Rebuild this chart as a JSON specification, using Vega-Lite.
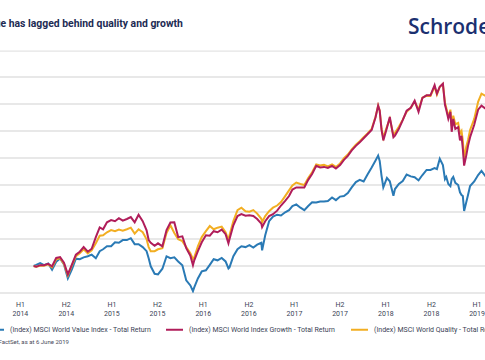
{
  "$schema": "https://vega.github.io/schema/vega-lite/v6.json",
  "width": 485,
  "height": 216,
  "autosize": {"type": "none"},
  "padding": {"top": 77, "left": 0, "right": 0, "bottom": 67},
  "background": "white",
  "config": {"view": {"stroke": null}, "font": "Roboto"},
  "datasets": {
    "series": [
      {"d":"2014-06-06","s":"Value","v":100},{"d":"2014-06-16","s":"Value","v":100.4},{"d":"2014-07-01","s":"Value","v":101.1},{"d":"2014-07-16","s":"Value","v":100.3},{"d":"2014-08-01","s":"Value","v":100.9},{"d":"2014-08-16","s":"Value","v":98.6},{"d":"2014-09-01","s":"Value","v":101.6},{"d":"2014-09-16","s":"Value","v":102.8},{"d":"2014-10-01","s":"Value","v":100.6},{"d":"2014-10-16","s":"Value","v":95.4},{"d":"2014-11-01","s":"Value","v":98.8},{"d":"2014-11-16","s":"Value","v":102.7},{"d":"2014-12-01","s":"Value","v":102.5},{"d":"2014-12-16","s":"Value","v":103.2},
      {"d":"2015-01-01","s":"Value","v":103.6},{"d":"2015-01-16","s":"Value","v":104.2},{"d":"2015-02-01","s":"Value","v":102.9},{"d":"2015-02-16","s":"Value","v":105.5},{"d":"2015-03-01","s":"Value","v":106.2},{"d":"2015-03-16","s":"Value","v":107.3},{"d":"2015-04-01","s":"Value","v":107.3},{"d":"2015-04-16","s":"Value","v":108.8},{"d":"2015-05-01","s":"Value","v":108.6},{"d":"2015-05-16","s":"Value","v":109.6},{"d":"2015-06-01","s":"Value","v":109.6},{"d":"2015-06-16","s":"Value","v":110.3},{"d":"2015-07-01","s":"Value","v":108.1},{"d":"2015-07-16","s":"Value","v":108.1},{"d":"2015-08-01","s":"Value","v":107.0},{"d":"2015-08-16","s":"Value","v":105.5},{"d":"2015-08-24","s":"Value","v":102.9},{"d":"2015-09-01","s":"Value","v":99.9},{"d":"2015-09-16","s":"Value","v":97.1},{"d":"2015-09-29","s":"Value","v":96.9},{"d":"2015-10-16","s":"Value","v":99.0},{"d":"2015-11-01","s":"Value","v":103.6},{"d":"2015-11-16","s":"Value","v":102.9},{"d":"2015-12-01","s":"Value","v":103.2},{"d":"2015-12-16","s":"Value","v":101.7},
      {"d":"2016-01-01","s":"Value","v":100.3},{"d":"2016-01-16","s":"Value","v":94.7},{"d":"2016-02-01","s":"Value","v":92.8},{"d":"2016-02-11","s":"Value","v":90.7},{"d":"2016-02-16","s":"Value","v":92.1},{"d":"2016-03-01","s":"Value","v":95.4},{"d":"2016-03-16","s":"Value","v":98.0},{"d":"2016-04-01","s":"Value","v":98.4},{"d":"2016-04-16","s":"Value","v":100.4},{"d":"2016-05-01","s":"Value","v":102.5},{"d":"2016-05-16","s":"Value","v":102.1},{"d":"2016-06-01","s":"Value","v":103.0},{"d":"2016-06-16","s":"Value","v":101.7},{"d":"2016-06-27","s":"Value","v":99.1},{"d":"2016-07-01","s":"Value","v":99.5},{"d":"2016-07-16","s":"Value","v":103.6},{"d":"2016-08-01","s":"Value","v":106.2},{"d":"2016-08-16","s":"Value","v":107.3},{"d":"2016-09-01","s":"Value","v":107.0},{"d":"2016-09-16","s":"Value","v":107.7},{"d":"2016-10-01","s":"Value","v":106.8},{"d":"2016-10-16","s":"Value","v":107.9},{"d":"2016-11-01","s":"Value","v":108.6},{"d":"2016-11-04","s":"Value","v":105.8},{"d":"2016-11-16","s":"Value","v":111.4},{"d":"2016-12-01","s":"Value","v":116.6},{"d":"2016-12-16","s":"Value","v":118.3},
      {"d":"2017-01-01","s":"Value","v":119.0},{"d":"2017-01-16","s":"Value","v":118.7},{"d":"2017-02-01","s":"Value","v":119.9},{"d":"2017-02-16","s":"Value","v":120.7},{"d":"2017-03-01","s":"Value","v":122.2},{"d":"2017-03-16","s":"Value","v":122.8},{"d":"2017-04-01","s":"Value","v":121.6},{"d":"2017-04-16","s":"Value","v":120.7},{"d":"2017-05-01","s":"Value","v":122.2},{"d":"2017-05-16","s":"Value","v":123.6},{"d":"2017-06-01","s":"Value","v":123.5},{"d":"2017-06-16","s":"Value","v":123.9},{"d":"2017-07-01","s":"Value","v":123.9},{"d":"2017-07-16","s":"Value","v":124.1},{"d":"2017-08-01","s":"Value","v":125.4},{"d":"2017-08-16","s":"Value","v":124.4},{"d":"2017-09-01","s":"Value","v":125.7},{"d":"2017-09-16","s":"Value","v":125.9},{"d":"2017-10-01","s":"Value","v":127.0},{"d":"2017-10-16","s":"Value","v":129.1},{"d":"2017-11-01","s":"Value","v":131.1},{"d":"2017-11-16","s":"Value","v":131.9},{"d":"2017-12-01","s":"Value","v":131.3},{"d":"2017-12-16","s":"Value","v":133.9},
      {"d":"2018-01-01","s":"Value","v":136.5},{"d":"2018-01-16","s":"Value","v":139.1},{"d":"2018-01-26","s":"Value","v":140.9},{"d":"2018-02-01","s":"Value","v":138.9},{"d":"2018-02-08","s":"Value","v":133.5},{"d":"2018-02-15","s":"Value","v":129.1},{"d":"2018-03-01","s":"Value","v":132.6},{"d":"2018-03-12","s":"Value","v":131.4},{"d":"2018-03-26","s":"Value","v":126.0},{"d":"2018-04-01","s":"Value","v":128.5},{"d":"2018-04-16","s":"Value","v":130.4},{"d":"2018-05-01","s":"Value","v":131.5},{"d":"2018-05-16","s":"Value","v":133.9},{"d":"2018-06-01","s":"Value","v":133.2},{"d":"2018-06-16","s":"Value","v":132.9},{"d":"2018-07-01","s":"Value","v":131.7},{"d":"2018-07-16","s":"Value","v":133.7},{"d":"2018-08-01","s":"Value","v":135.6},{"d":"2018-08-16","s":"Value","v":135.6},{"d":"2018-09-01","s":"Value","v":136.3},{"d":"2018-09-10","s":"Value","v":135.9},{"d":"2018-09-21","s":"Value","v":139.7},{"d":"2018-10-03","s":"Value","v":137.4},{"d":"2018-10-11","s":"Value","v":132.2},{"d":"2018-10-16","s":"Value","v":133.0},{"d":"2018-10-24","s":"Value","v":130.4},{"d":"2018-11-01","s":"Value","v":129.6},{"d":"2018-11-06","s":"Value","v":132.2},{"d":"2018-11-12","s":"Value","v":133.0},{"d":"2018-11-20","s":"Value","v":130.8},{"d":"2018-12-01","s":"Value","v":130.0},{"d":"2018-12-08","s":"Value","v":127.3},{"d":"2018-12-14","s":"Value","v":126.3},{"d":"2018-12-19","s":"Value","v":125.9},{"d":"2018-12-24","s":"Value","v":120.4},
      {"d":"2019-01-01","s":"Value","v":123.5},{"d":"2019-01-08","s":"Value","v":126.3},{"d":"2019-01-16","s":"Value","v":129.6},{"d":"2019-02-01","s":"Value","v":131.3},{"d":"2019-02-16","s":"Value","v":133.7},{"d":"2019-03-01","s":"Value","v":135.2},{"d":"2019-03-16","s":"Value","v":133.3},{"d":"2019-04-01","s":"Value","v":134.5},

      {"d":"2014-06-06","s":"Quality","v":100},{"d":"2014-06-16","s":"Quality","v":99.7},{"d":"2014-07-01","s":"Quality","v":100.1},{"d":"2014-07-16","s":"Quality","v":100.1},{"d":"2014-08-01","s":"Quality","v":100.6},{"d":"2014-08-16","s":"Quality","v":99.5},{"d":"2014-09-01","s":"Quality","v":102.5},{"d":"2014-09-16","s":"Quality","v":102.9},{"d":"2014-10-01","s":"Quality","v":100.8},{"d":"2014-10-16","s":"Quality","v":96.5},{"d":"2014-11-01","s":"Quality","v":100.3},{"d":"2014-11-16","s":"Quality","v":103.6},{"d":"2014-12-01","s":"Quality","v":104.7},{"d":"2014-12-16","s":"Quality","v":106.2},
      {"d":"2015-01-01","s":"Quality","v":104.7},{"d":"2015-01-16","s":"Quality","v":105.8},{"d":"2015-02-01","s":"Quality","v":108.4},{"d":"2015-02-16","s":"Quality","v":111.2},{"d":"2015-03-01","s":"Quality","v":111.4},{"d":"2015-03-16","s":"Quality","v":112.5},{"d":"2015-04-01","s":"Quality","v":113.3},{"d":"2015-04-16","s":"Quality","v":112.9},{"d":"2015-05-01","s":"Quality","v":113.5},{"d":"2015-05-16","s":"Quality","v":113.1},{"d":"2015-06-01","s":"Quality","v":113.6},{"d":"2015-06-16","s":"Quality","v":114.2},{"d":"2015-07-01","s":"Quality","v":112.0},{"d":"2015-07-16","s":"Quality","v":113.6},{"d":"2015-08-01","s":"Quality","v":112.5},{"d":"2015-08-16","s":"Quality","v":109.9},{"d":"2015-08-24","s":"Quality","v":107.0},{"d":"2015-09-01","s":"Quality","v":105.5},{"d":"2015-09-16","s":"Quality","v":105.5},{"d":"2015-09-29","s":"Quality","v":106.2},{"d":"2015-10-16","s":"Quality","v":106.6},{"d":"2015-11-01","s":"Quality","v":112.2},{"d":"2015-11-16","s":"Quality","v":115.1},{"d":"2015-12-01","s":"Quality","v":112.2},{"d":"2015-12-16","s":"Quality","v":109.9},
      {"d":"2016-01-01","s":"Quality","v":109.2},{"d":"2016-01-16","s":"Quality","v":107.0},{"d":"2016-02-01","s":"Quality","v":104.7},{"d":"2016-02-11","s":"Quality","v":102.5},{"d":"2016-02-16","s":"Quality","v":103.2},{"d":"2016-03-01","s":"Quality","v":107.3},{"d":"2016-03-16","s":"Quality","v":110.7},{"d":"2016-04-01","s":"Quality","v":112.9},{"d":"2016-04-16","s":"Quality","v":114.8},{"d":"2016-05-01","s":"Quality","v":113.6},{"d":"2016-05-16","s":"Quality","v":114.2},{"d":"2016-06-01","s":"Quality","v":114.6},{"d":"2016-06-16","s":"Quality","v":112.5},{"d":"2016-06-27","s":"Quality","v":109.6},{"d":"2016-07-01","s":"Quality","v":111.4},{"d":"2016-07-16","s":"Quality","v":116.6},{"d":"2016-08-01","s":"Quality","v":120.7},{"d":"2016-08-16","s":"Quality","v":121.6},{"d":"2016-09-01","s":"Quality","v":120.3},{"d":"2016-09-16","s":"Quality","v":120.1},{"d":"2016-10-01","s":"Quality","v":120.7},{"d":"2016-10-16","s":"Quality","v":119.4},{"d":"2016-11-01","s":"Quality","v":117.5},{"d":"2016-11-04","s":"Quality","v":116.2},{"d":"2016-11-16","s":"Quality","v":118.5},{"d":"2016-12-01","s":"Quality","v":120.3},{"d":"2016-12-16","s":"Quality","v":121.6},
      {"d":"2017-01-01","s":"Quality","v":122.4},{"d":"2017-01-16","s":"Quality","v":123.7},{"d":"2017-02-01","s":"Quality","v":125.9},{"d":"2017-02-16","s":"Quality","v":128.0},{"d":"2017-03-01","s":"Quality","v":129.8},{"d":"2017-03-16","s":"Quality","v":130.9},{"d":"2017-04-01","s":"Quality","v":130.4},{"d":"2017-04-16","s":"Quality","v":130.0},{"d":"2017-05-01","s":"Quality","v":132.6},{"d":"2017-05-16","s":"Quality","v":134.7},{"d":"2017-06-01","s":"Quality","v":137.6},{"d":"2017-06-16","s":"Quality","v":137.2},{"d":"2017-07-01","s":"Quality","v":137.5},{"d":"2017-07-16","s":"Quality","v":136.9},{"d":"2017-08-01","s":"Quality","v":137.6},{"d":"2017-08-16","s":"Quality","v":136.7},{"d":"2017-09-01","s":"Quality","v":138.0},{"d":"2017-09-16","s":"Quality","v":139.9},{"d":"2017-10-01","s":"Quality","v":141.3},{"d":"2017-10-16","s":"Quality","v":143.2},{"d":"2017-11-01","s":"Quality","v":144.9},{"d":"2017-11-16","s":"Quality","v":146.2},{"d":"2017-12-01","s":"Quality","v":147.7},{"d":"2017-12-16","s":"Quality","v":149.1},
      {"d":"2018-01-01","s":"Quality","v":150.8},{"d":"2018-01-16","s":"Quality","v":155.3},{"d":"2018-01-26","s":"Quality","v":159.4},{"d":"2018-02-01","s":"Quality","v":157.5},{"d":"2018-02-08","s":"Quality","v":151.0},{"d":"2018-02-15","s":"Quality","v":147.5},{"d":"2018-03-01","s":"Quality","v":151.6},{"d":"2018-03-12","s":"Quality","v":154.5},{"d":"2018-03-26","s":"Quality","v":148.5},{"d":"2018-04-01","s":"Quality","v":149.3},{"d":"2018-04-16","s":"Quality","v":151.6},{"d":"2018-05-01","s":"Quality","v":154.2},{"d":"2018-05-16","s":"Quality","v":157.1},{"d":"2018-06-01","s":"Quality","v":158.6},{"d":"2018-06-16","s":"Quality","v":160.9},{"d":"2018-07-01","s":"Quality","v":157.9},{"d":"2018-07-16","s":"Quality","v":162.3},{"d":"2018-08-01","s":"Quality","v":163.1},{"d":"2018-08-16","s":"Quality","v":163.0},{"d":"2018-09-01","s":"Quality","v":166.4},{"d":"2018-09-10","s":"Quality","v":163.5},{"d":"2018-09-21","s":"Quality","v":166.4},{"d":"2018-10-03","s":"Quality","v":167.4},{"d":"2018-10-11","s":"Quality","v":160.5},{"d":"2018-10-16","s":"Quality","v":158.6},{"d":"2018-10-24","s":"Quality","v":155.3},{"d":"2018-11-01","s":"Quality","v":157.9},{"d":"2018-11-06","s":"Quality","v":151.9},{"d":"2018-11-12","s":"Quality","v":155.7},{"d":"2018-11-20","s":"Quality","v":152.5},{"d":"2018-12-01","s":"Quality","v":153.0},{"d":"2018-12-08","s":"Quality","v":149.0},{"d":"2018-12-14","s":"Quality","v":150.0},{"d":"2018-12-19","s":"Quality","v":146.5},{"d":"2018-12-24","s":"Quality","v":139.7},
      {"d":"2019-01-01","s":"Quality","v":144.1},{"d":"2019-01-08","s":"Quality","v":146.7},{"d":"2019-01-16","s":"Quality","v":150.4},{"d":"2019-02-01","s":"Quality","v":154.5},{"d":"2019-02-16","s":"Quality","v":160.8},{"d":"2019-03-01","s":"Quality","v":163.8},{"d":"2019-03-16","s":"Quality","v":163.0},{"d":"2019-04-01","s":"Quality","v":163.8},

      {"d":"2014-06-06","s":"Growth","v":100},{"d":"2014-06-16","s":"Growth","v":99.7},{"d":"2014-07-01","s":"Growth","v":100.3},{"d":"2014-07-16","s":"Growth","v":100.3},{"d":"2014-08-01","s":"Growth","v":100.8},{"d":"2014-08-16","s":"Growth","v":99.9},{"d":"2014-09-01","s":"Growth","v":103.0},{"d":"2014-09-16","s":"Growth","v":103.3},{"d":"2014-10-01","s":"Growth","v":101.2},{"d":"2014-10-16","s":"Growth","v":96.9},{"d":"2014-11-01","s":"Growth","v":100.6},{"d":"2014-11-16","s":"Growth","v":104.2},{"d":"2014-12-01","s":"Growth","v":105.3},{"d":"2014-12-16","s":"Growth","v":107.0},
      {"d":"2015-01-01","s":"Growth","v":105.3},{"d":"2015-01-16","s":"Growth","v":106.4},{"d":"2015-02-01","s":"Growth","v":110.7},{"d":"2015-02-16","s":"Growth","v":114.3},{"d":"2015-03-01","s":"Growth","v":113.6},{"d":"2015-03-16","s":"Growth","v":116.2},{"d":"2015-04-01","s":"Growth","v":117.0},{"d":"2015-04-16","s":"Growth","v":116.6},{"d":"2015-05-01","s":"Growth","v":117.7},{"d":"2015-05-16","s":"Growth","v":116.8},{"d":"2015-06-01","s":"Growth","v":117.4},{"d":"2015-06-16","s":"Growth","v":118.1},{"d":"2015-07-01","s":"Growth","v":116.2},{"d":"2015-07-16","s":"Growth","v":119.0},{"d":"2015-08-01","s":"Growth","v":116.6},{"d":"2015-08-16","s":"Growth","v":113.2},{"d":"2015-08-24","s":"Growth","v":109.6},{"d":"2015-09-01","s":"Growth","v":108.6},{"d":"2015-09-16","s":"Growth","v":107.5},{"d":"2015-09-29","s":"Growth","v":108.4},{"d":"2015-10-16","s":"Growth","v":107.3},{"d":"2015-11-01","s":"Growth","v":113.3},{"d":"2015-11-16","s":"Growth","v":116.1},{"d":"2015-12-01","s":"Growth","v":116.2},{"d":"2015-12-16","s":"Growth","v":110.7},
      {"d":"2016-01-01","s":"Growth","v":111.0},{"d":"2016-01-16","s":"Growth","v":106.6},{"d":"2016-02-01","s":"Growth","v":103.8},{"d":"2016-02-11","s":"Growth","v":100.3},{"d":"2016-02-16","s":"Growth","v":102.1},{"d":"2016-03-01","s":"Growth","v":105.5},{"d":"2016-03-16","s":"Growth","v":108.8},{"d":"2016-04-01","s":"Growth","v":111.4},{"d":"2016-04-16","s":"Growth","v":111.2},{"d":"2016-05-01","s":"Growth","v":112.9},{"d":"2016-05-16","s":"Growth","v":112.5},{"d":"2016-06-01","s":"Growth","v":113.5},{"d":"2016-06-16","s":"Growth","v":111.8},{"d":"2016-06-27","s":"Growth","v":108.4},{"d":"2016-07-01","s":"Growth","v":109.9},{"d":"2016-07-16","s":"Growth","v":115.1},{"d":"2016-08-01","s":"Growth","v":118.5},{"d":"2016-08-16","s":"Growth","v":119.2},{"d":"2016-09-01","s":"Growth","v":118.6},{"d":"2016-09-16","s":"Growth","v":118.8},{"d":"2016-10-01","s":"Growth","v":118.5},{"d":"2016-10-16","s":"Growth","v":117.4},{"d":"2016-11-01","s":"Growth","v":115.7},{"d":"2016-11-04","s":"Growth","v":114.4},{"d":"2016-11-16","s":"Growth","v":116.6},{"d":"2016-12-01","s":"Growth","v":118.5},{"d":"2016-12-16","s":"Growth","v":119.2},
      {"d":"2017-01-01","s":"Growth","v":120.5},{"d":"2017-01-16","s":"Growth","v":122.4},{"d":"2017-02-01","s":"Growth","v":124.1},{"d":"2017-02-16","s":"Growth","v":125.9},{"d":"2017-03-01","s":"Growth","v":128.3},{"d":"2017-03-16","s":"Growth","v":129.1},{"d":"2017-04-01","s":"Growth","v":129.1},{"d":"2017-04-16","s":"Growth","v":129.1},{"d":"2017-05-01","s":"Growth","v":131.9},{"d":"2017-05-16","s":"Growth","v":134.1},{"d":"2017-06-01","s":"Growth","v":137.1},{"d":"2017-06-16","s":"Growth","v":136.5},{"d":"2017-07-01","s":"Growth","v":136.7},{"d":"2017-07-16","s":"Growth","v":136.3},{"d":"2017-08-01","s":"Growth","v":137.1},{"d":"2017-08-16","s":"Growth","v":136.1},{"d":"2017-09-01","s":"Growth","v":137.4},{"d":"2017-09-16","s":"Growth","v":139.3},{"d":"2017-10-01","s":"Growth","v":140.8},{"d":"2017-10-16","s":"Growth","v":142.8},{"d":"2017-11-01","s":"Growth","v":144.5},{"d":"2017-11-16","s":"Growth","v":145.8},{"d":"2017-12-01","s":"Growth","v":147.3},{"d":"2017-12-16","s":"Growth","v":148.8},
      {"d":"2018-01-01","s":"Growth","v":150.4},{"d":"2018-01-16","s":"Growth","v":155.1},{"d":"2018-01-26","s":"Growth","v":159.4},{"d":"2018-02-01","s":"Growth","v":157.5},{"d":"2018-02-08","s":"Growth","v":150.5},{"d":"2018-02-15","s":"Growth","v":146.5},{"d":"2018-03-01","s":"Growth","v":151.2},{"d":"2018-03-12","s":"Growth","v":155.2},{"d":"2018-03-26","s":"Growth","v":147.7},{"d":"2018-04-01","s":"Growth","v":148.3},{"d":"2018-04-16","s":"Growth","v":150.8},{"d":"2018-05-01","s":"Growth","v":154.0},{"d":"2018-05-16","s":"Growth","v":157.5},{"d":"2018-06-01","s":"Growth","v":158.6},{"d":"2018-06-16","s":"Growth","v":161.2},{"d":"2018-07-01","s":"Growth","v":157.1},{"d":"2018-07-16","s":"Growth","v":162.3},{"d":"2018-08-01","s":"Growth","v":163.2},{"d":"2018-08-16","s":"Growth","v":163.2},{"d":"2018-09-01","s":"Growth","v":167.0},{"d":"2018-09-10","s":"Growth","v":163.8},{"d":"2018-09-21","s":"Growth","v":166.4},{"d":"2018-10-03","s":"Growth","v":167.5},{"d":"2018-10-11","s":"Growth","v":159.7},{"d":"2018-10-16","s":"Growth","v":157.9},{"d":"2018-10-24","s":"Growth","v":154.5},{"d":"2018-11-01","s":"Growth","v":157.1},{"d":"2018-11-06","s":"Growth","v":149.7},{"d":"2018-11-12","s":"Growth","v":154.5},{"d":"2018-11-20","s":"Growth","v":150.8},{"d":"2018-12-01","s":"Growth","v":151.4},{"d":"2018-12-08","s":"Growth","v":146.5},{"d":"2018-12-14","s":"Growth","v":148.2},{"d":"2018-12-19","s":"Growth","v":143.4},{"d":"2018-12-24","s":"Growth","v":137.2},
      {"d":"2019-01-01","s":"Growth","v":140.8},{"d":"2019-01-08","s":"Growth","v":144.5},{"d":"2019-01-16","s":"Growth","v":147.7},{"d":"2019-02-01","s":"Growth","v":152.3},{"d":"2019-02-16","s":"Growth","v":157.9},{"d":"2019-03-01","s":"Growth","v":159.4},{"d":"2019-03-16","s":"Growth","v":158.3},{"d":"2019-04-01","s":"Growth","v":159.0}
    ],
    "heading": [{"label": "Value has lagged behind quality and growth"}],
    "logo": [{"label": "Schroders"}],
    "source": [{"label": "Source: FactSet, as at 6 June 2019"}]
  },
  "layer": [
    {
      "data": {"values": [{}]},
      "mark": {"type": "rule", "color": "#dddddd", "strokeWidth": 1},
      "encoding": {"y": {"datum": 179.6, "type": "quantitative"}}
    },
    {
      "data": {"name": "series"},
      "mark": {"type": "line", "strokeWidth": 2, "clip": true},
      "encoding": {
        "x": {
          "field": "d", "type": "temporal",
          "scale": {"domain": [{"year": 2014, "month": 1, "date": 27, "utc": true}, {"year": 2019, "month": 3, "date": 14, "hours": 14, "utc": true}], "nice": false},
          "axis": {
            "title": null, "grid": false, "domain": false, "ticks": false, "tickCount": 30,
            "values": [
              {"year": 2014, "month": 4, "date": 14, "utc": true},
              {"year": 2014, "month": 10, "date": 8, "utc": true},
              {"year": 2015, "month": 4, "date": 2, "utc": true},
              {"year": 2015, "month": 9, "date": 25, "utc": true},
              {"year": 2016, "month": 3, "date": 20, "utc": true},
              {"year": 2016, "month": 9, "date": 12, "utc": true},
              {"year": 2017, "month": 3, "date": 7, "utc": true},
              {"year": 2017, "month": 8, "date": 30, "utc": true},
              {"year": 2018, "month": 2, "date": 23, "utc": true},
              {"year": 2018, "month": 8, "date": 18, "utc": true},
              {"year": 2019, "month": 2, "date": 10, "utc": true}
            ],
            "labelExpr": "[utcmonth(datum.value) < 6 ? 'H1' : 'H2', '' + utcyear(datum.value)]",
            "labelFont": "Roboto", "labelFontSize": 7, "labelColor": "#3a3f55",
            "labelPadding": 7, "labelLineHeight": 9,
            "labelOverlap": false, "labelBound": false, "labelFlush": false
          }
        },
        "y": {
          "field": "v", "type": "quantitative",
          "scale": {"domain": [90, 170], "nice": false, "zero": false},
          "axis": {"title": null, "labels": false, "ticks": false, "domain": false, "grid": true, "gridColor": "#e8e8e8", "gridWidth": 2, "translate": 0, "tickCount": 30, "values": [90, 100, 110, 120, 130, 140, 150, 160, 170]}
        },
        "color": {
          "field": "s", "type": "nominal",
          "scale": {"domain": ["Value", "Growth", "Quality"], "range": ["#2a7ab5", "#b01d5a", "#f2ae22"]},
          "legend": {
            "orient": "none", "legendX": -14, "legendY": 243, "direction": "horizontal",
            "title": null, "padding": 0, "offset": 0,
            "symbolType": "stroke", "symbolStrokeWidth": 2, "symbolSize": 289,
            "labelFont": "Roboto", "labelFontSize": 7, "labelColor": "#3a3f55", "labelOffset": 5, "labelLimit": 400,
            "columnPadding": 11,
            "labelExpr": "datum.label == 'Value' ? '(Index) MSCI World Value Index - Total Return' : datum.label == 'Growth' ? '(Index) MSCI World Index Growth - Total Return' : '(Index) MSCI World Quality - Total Return'"
          }
        }
      }
    },
    {
      "data": {"name": "heading"},
      "mark": {"type": "text", "align": "right", "baseline": "middle", "font": "Roboto", "fontSize": 10.4, "fontWeight": "bold", "color": "#1d2b53"},
      "encoding": {
        "x": {"datum": {"year": 2016, "month": 1, "date": 3, "utc": true}, "type": "temporal"},
        "y": {"datum": 189.8, "type": "quantitative"},
        "text": {"field": "label"}
      }
    },
    {
      "data": {"name": "logo"},
      "mark": {"type": "text", "align": "left", "baseline": "middle", "font": "Open Sans", "fontSize": 21, "fontWeight": 600, "color": "#1b3070"},
      "encoding": {
        "x": {"datum": {"year": 2018, "month": 5, "date": 21, "utc": true}, "type": "temporal"},
        "y": {"datum": 188.3, "type": "quantitative"},
        "text": {"field": "label"}
      }
    },
    {
      "data": {"name": "source"},
      "mark": {"type": "text", "align": "right", "baseline": "middle", "font": "Roboto", "fontSize": 6, "color": "#4a4a5a"},
      "encoding": {
        "x": {"datum": {"year": 2014, "month": 10, "date": 20, "utc": true}, "type": "temporal"},
        "y": {"datum": 71.7, "type": "quantitative"},
        "text": {"field": "label"}
      }
    }
  ]
}
